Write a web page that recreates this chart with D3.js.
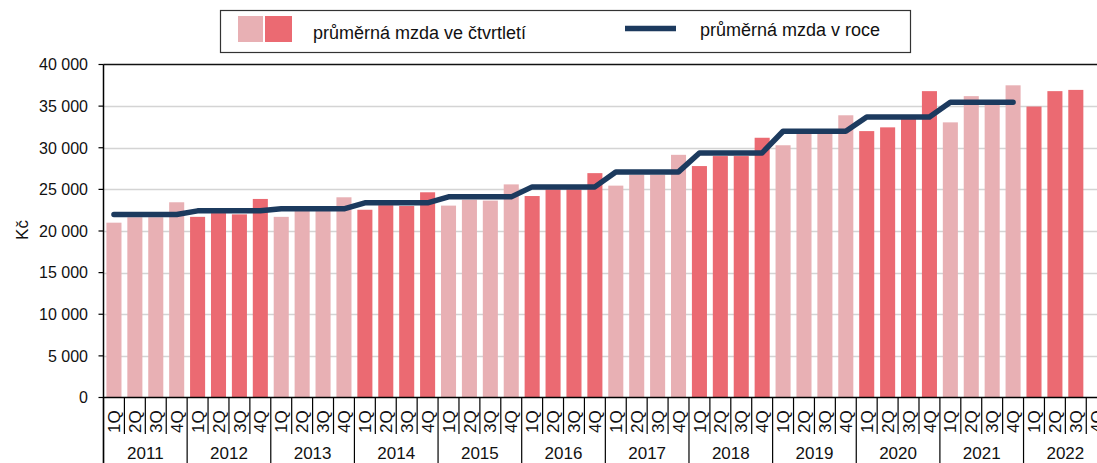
<!DOCTYPE html>
<html>
<head>
<meta charset="utf-8">
<script src="https://cdn.jsdelivr.net/npm/d3@7"></script>
<style>
  body { margin: 0; background: #fff; }
  svg { display: block; font-family: "Liberation Sans", Arial, sans-serif; }
</style>
</head>
<body>
<svg width="1097" height="463"></svg>
<script>
// data
const years = [2011, 2012, 2013, 2014, 2015, 2016, 2017, 2018, 2019, 2020, 2021, 2022];
const quarters = ["1Q", "2Q", "3Q", "4Q"];
const quarterly = [
  21000, 21650, 21650, 23450,
  21700, 22150, 22000, 23850,
  21700, 22450, 22400, 24050,
  22550, 23100, 23000, 24650,
  23050, 23750, 23650, 25600,
  24200, 25000, 25000, 26950,
  25450, 26750, 26750, 29150,
  27800, 29000, 29000, 31200,
  30300, 31800, 31800, 33900,
  32000, 32450, 33500, 36800,
  33050, 36200, 35150, 37500,
  34950, 36800, 36950, null
];
const annual = [21980, 22420, 22660, 23380, 24100, 25300, 27100, 29380, 31980, 33700, 35460];
const yTicks = [0, 5000, 10000, 15000, 20000, 25000, 30000, 35000, 40000];

const colLight = "#E8B0B4", colDark = "#EB6A72", colLine = "#1C3A5E";

const svg = d3.select("svg");
const plotLeft = 103.5, plotTop = 64.5, plotBottom = 397.5, step = 20.91;

const cats = [];
years.forEach((yr, yi) => quarters.forEach((q, qi) => cats.push({ year: yr, yi: yi, q: q, i: yi * 4 + qi })));

const x = d3.scaleBand()
  .domain(d3.range(cats.length))
  .range([plotLeft, plotLeft + step * cats.length])
  .paddingInner(0.28)
  .paddingOuter(0.14);
const y = d3.scaleLinear().domain([0, 40000]).range([plotBottom, plotTop]);

const fmt = d3.formatLocale({ decimal: ",", thousands: " ", grouping: [3], currency: ["", ""] }).format(",");

// gridlines
svg.append("g").selectAll("line")
  .data(yTicks.filter(d => d > 0 && d < 40000))
  .enter().append("line")
  .attr("x1", plotLeft).attr("x2", 1097)
  .attr("y1", d => Math.round(y(d)) + 0.5).attr("y2", d => Math.round(y(d)) + 0.5)
  .attr("stroke", "#D4D4D4").attr("stroke-width", 1.5);

// top frame line
svg.append("line")
  .attr("x1", plotLeft).attr("x2", 1097)
  .attr("y1", y(40000)).attr("y2", y(40000))
  .attr("stroke", "#111").attr("stroke-width", 1.5);

// bars
svg.append("g").selectAll("rect")
  .data(cats.filter(d => quarterly[d.i] != null))
  .enter().append("rect")
  .attr("x", d => x(d.i))
  .attr("width", x.bandwidth())
  .attr("y", d => y(quarterly[d.i]))
  .attr("height", d => y(0) - y(quarterly[d.i]))
  .attr("fill", d => d.yi % 2 === 0 ? colLight : colDark);

// annual line
const linePts = cats.filter(d => d.yi < annual.length);
svg.append("path")
  .datum(linePts)
  .attr("fill", "none")
  .attr("stroke", colLine)
  .attr("stroke-width", 5.5)
  .attr("stroke-linecap", "round")
  .attr("stroke-linejoin", "round")
  .attr("d", d3.line().x(d => x(d.i) + x.bandwidth() / 2).y(d => y(annual[d.yi])));

// y axis
svg.append("line")
  .attr("x1", plotLeft).attr("x2", plotLeft)
  .attr("y1", plotTop).attr("y2", 463)
  .attr("stroke", "#000").attr("stroke-width", 1.5);
const yt = svg.append("g").selectAll("g").data(yTicks).enter().append("g");
yt.append("line")
  .attr("x1", plotLeft - 5).attr("x2", plotLeft)
  .attr("y1", d => y(d)).attr("y2", d => y(d))
  .attr("stroke", "#000").attr("stroke-width", 1.2);
yt.append("text")
  .attr("x", 88).attr("y", d => y(d)).attr("dy", "0.36em")
  .attr("text-anchor", "end")
  .attr("font-size", "16px").attr("fill", "#111")
  .text(d => fmt(d));

svg.append("text")
  .attr("transform", "translate(22,230) rotate(-90)")
  .attr("text-anchor", "middle").attr("dy", "0.35em")
  .attr("font-size", "17px").attr("fill", "#111")
  .text("Kč");

// x axis
svg.append("line")
  .attr("x1", plotLeft).attr("x2", 1097)
  .attr("y1", plotBottom).attr("y2", plotBottom)
  .attr("stroke", "#000").attr("stroke-width", 1.5);

const xg = svg.append("g");
xg.selectAll("line.q")
  .data(cats.filter(d => d.i % 4 !== 0))
  .enter().append("line")
  .attr("x1", d => plotLeft + d.i * step).attr("x2", d => plotLeft + d.i * step)
  .attr("y1", plotBottom).attr("y2", 434)
  .attr("stroke", "#000").attr("stroke-width", 1.2);
xg.selectAll("line.y")
  .data(years)
  .enter().append("line")
  .attr("x1", (d, i) => plotLeft + i * 4 * step).attr("x2", (d, i) => plotLeft + i * 4 * step)
  .attr("y1", plotBottom).attr("y2", 463)
  .attr("stroke", "#000").attr("stroke-width", 1.2);
xg.selectAll("text.q")
  .data(cats)
  .enter().append("text")
  .attr("transform", d => "translate(" + (x(d.i) + x.bandwidth() / 2) + ",433) rotate(-90)")
  .attr("dy", "0.36em")
  .attr("font-size", "17px").attr("fill", "#111")
  .text(d => d.q);
xg.selectAll("text.y")
  .data(years)
  .enter().append("text")
  .attr("x", (d, i) => plotLeft + (i * 4 + 2) * step)
  .attr("y", 459)
  .attr("text-anchor", "middle")
  .attr("font-size", "17px").attr("fill", "#111")
  .text(d => d);

// legend
const lg = svg.append("g");
lg.append("rect")
  .attr("x", 220.5).attr("y", 10.5).attr("width", 690).attr("height", 42)
  .attr("fill", "#fff").attr("stroke", "#333").attr("stroke-width", 1.2);
lg.append("rect").attr("x", 238).attr("y", 16).attr("width", 25).attr("height", 26).attr("fill", colLight);
lg.append("rect").attr("x", 265).attr("y", 16).attr("width", 27).attr("height", 26).attr("fill", colDark);
lg.append("text").attr("x", 313).attr("y", 39).attr("font-size", "18px").attr("fill", "#111")
  .text("průměrná mzda ve čtvrtletí");
lg.append("line").attr("x1", 625).attr("x2", 676).attr("y1", 28.5).attr("y2", 28.5)
  .attr("stroke", colLine).attr("stroke-width", 5.5);
lg.append("text").attr("x", 700).attr("y", 36).attr("font-size", "18px").attr("fill", "#111")
  .text("průměrná mzda v roce");
</script>
</body>
</html>
